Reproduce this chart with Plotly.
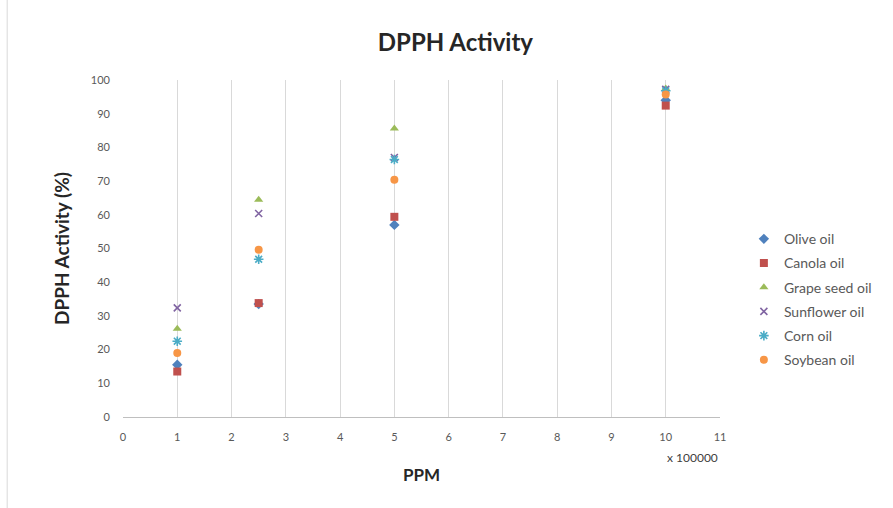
import plotly.graph_objects as go

# Concentrations in ppm and DPPH radical scavenging activity (%) for each oil
ppm = [100000, 250000, 500000, 1000000]
display_unit = 100000

olive_oil = [15.5, 33.5, 57.0, 94.0]
canola_oil = [13.5, 33.8, 59.4, 92.4]
grape_seed_oil = [26.2, 64.5, 85.6, 97.5]
sunflower_oil = [32.4, 60.4, 77.0, 97.2]
corn_oil = [22.5, 46.8, 76.4, 96.8]
soybean_oil = [19.0, 49.6, 70.4, 95.7]

series_names = ["Olive oil", "Canola oil", "Grape seed oil",
                "Sunflower oil", "Corn oil", "Soybean oil"]
series_values = [olive_oil, canola_oil, grape_seed_oil,
                 sunflower_oil, corn_oil, soybean_oil]

x_ticks = list(range(0, 12))
y_ticks = list(range(0, 101, 10))

styles = [
    dict(symbol="diamond", color="#4F81BD", size=8, line=dict(width=0)),
    dict(symbol="square", color="#C0504D", size=8, line=dict(width=0)),
    dict(symbol="triangle-up", color="#9BBB59", size=8, line=dict(width=0)),
    dict(symbol="x-thin-open", color="#8064A2", size=7, line=dict(width=1.6, color="#8064A2")),
    dict(symbol="asterisk-open", color="#4BACC6", size=8, line=dict(width=1.6, color="#4BACC6")),
    dict(symbol="circle", color="#F79646", size=8, line=dict(width=0)),
]

x_scaled = [p / display_unit for p in ppm]

fig = go.Figure()
for name, vals, st in zip(series_names, series_values, styles):
    fig.add_trace(go.Scatter(
        x=x_scaled, y=vals, mode="markers", name=name,
        legendgroup=name,
        marker=st,
    ))

axis_font = dict(family="Lato, Open Sans, sans-serif", size=11, color="#595959")

fig.update_layout(
    width=893, height=508,
    margin=dict(l=123, r=173, t=80, b=91, autoexpand=False),
    paper_bgcolor="white", plot_bgcolor="white",
    title=dict(text="<b>DPPH Activity</b>", x=0.51, xanchor="center",
               y=0.917, yanchor="middle",
               font=dict(family="Lato, Open Sans, sans-serif", size=24, color="#262626")),
    legend=dict(x=1.04, xanchor="left", y=0.575, yanchor="top",
                font=dict(family="Lato, Open Sans, sans-serif", size=14, color="#595959"),
                tracegroupgap=3, itemsizing="trace"),
    showlegend=True,
)

fig.update_xaxes(
    range=[0, 11], tickvals=x_ticks, ticktext=[str(t) for t in x_ticks],
    showgrid=True, gridcolor="#D9D9D9", gridwidth=1,
    showline=True, linecolor="#BFBFBF", linewidth=1,
    zeroline=False, tickfont=axis_font, ticks="", ticklabelstandoff=10,
    title=dict(text="<b>PPM</b>", standoff=26,
               font=dict(family="Lato, Open Sans, sans-serif", size=17, color="#262626")),
)
fig.update_yaxes(
    range=[0, 100], tickvals=y_ticks,
    showgrid=False, zeroline=False, showline=False,
    tickfont=axis_font, ticks="", ticklabelstandoff=12,
    title=dict(text="<b>DPPH Activity (%)</b>", standoff=16,
               font=dict(family="Lato, Open Sans, sans-serif", size=19, color="#262626")),
)

# display-units label under the x axis
fig.add_annotation(
    text="x 100000", xref="paper", yref="paper", x=1.0, y=-0.12,
    xanchor="right", yanchor="middle", showarrow=False,
    font=dict(family="Lato, Open Sans, sans-serif", size=12, color="#404040"),
)

# chart-area frame edge on the left
fig.add_shape(type="line", xref="paper", yref="paper",
              x0=-0.194, x1=-0.194, y0=-0.28, y1=1.25,
              line=dict(color="#D9D9D9", width=1))

fig.write_html("out.html")
